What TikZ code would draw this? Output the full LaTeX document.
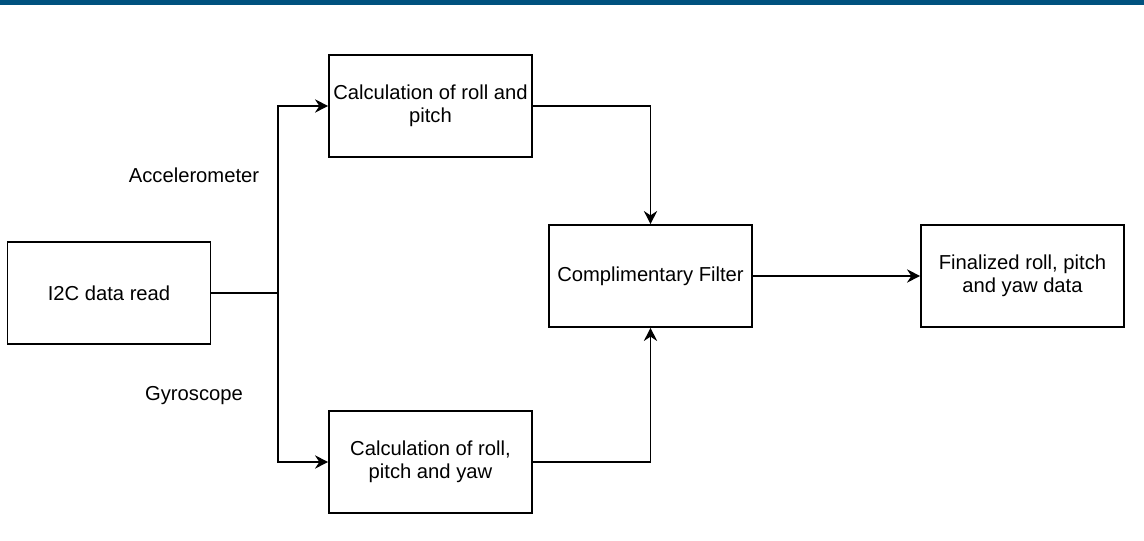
\documentclass[tikz,border=0pt]{standalone}
\usepackage{fontspec}
\setmainfont{Liberation Sans}
\usetikzlibrary{arrows.meta}
\definecolor{barblue}{RGB}{0,82,127}

\begin{document}
\begin{tikzpicture}[line width=0.9pt,
                    every node/.style={font=\fontsize{11.5}{13.2}\selectfont, align=center},
                    block/.style={rectangle, draw=black, minimum width=4.06cm, minimum height=2.04cm, inner sep=1pt},
                    link/.style={-{Stealth[length=7.5pt, width=7.5pt, inset=2.5pt]}}]

                    % Canvas and top bar
                    \useasboundingbox (0,0) rectangle (22.88,10.82);
                    \fill[barblue] (0,10.72) rectangle (22.88,10.82);

                    % Define nodes
                    \node[block] (read) at (2.18,4.96) {I2C data read}; % Sensor input
                    \node[block] (accel) at (8.61,8.70) {Calculation of roll and\\pitch}; % Accelerometer path
                    \node[block] (gyro) at (8.61,1.58) {Calculation of roll,\\pitch and yaw}; % Gyroscope path
                    \node[block] (filter) at (13.01,5.30) {Complimentary Filter}; % Fusion
                    \node[block] (final) at (20.45,5.30) {Finalized roll, pitch\\and yaw data}; % Output
                    \coordinate (split) at (5.56,4.96); % Branch point

                    % Branch labels
                    \node (acclabel) at (3.88,7.32) {Accelerometer};
                    \node (gyrolabel) at (3.88,2.90) {Gyroscope};

                    % Define edges
                    \draw (read.east) -- (split);
                    \draw [link] (split) |- (accel.west);
                    \draw [link] (split) |- (gyro.west);
                    \draw [link] (accel.east) -| (filter.north);
                    \draw [link] (gyro.east) -| (filter.south);
                    \draw [link] (filter.east) -- (final.west);
                \end{tikzpicture}
\end{document}
